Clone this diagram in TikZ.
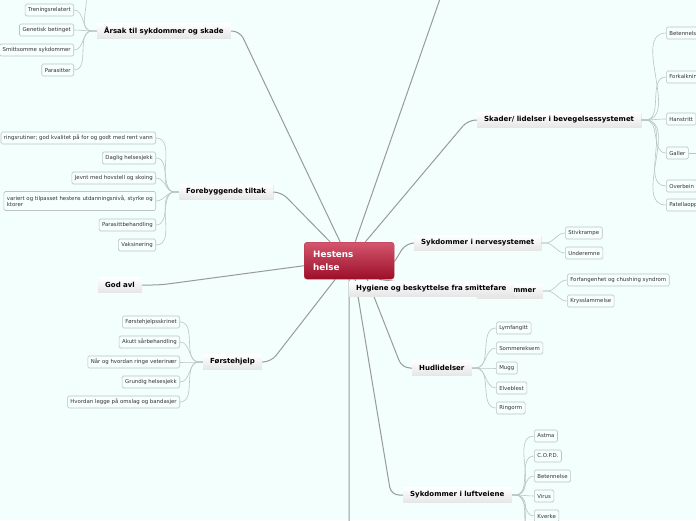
\documentclass[tikz,border=0pt]{standalone}
\usepackage{fontspec}
\setmainfont{DejaVu Sans}
\usetikzlibrary{shadows,positioning}
\definecolor{bgmint}{HTML}{F2FFFD}
\definecolor{redtop}{HTML}{D4566E}
\definecolor{redbot}{HTML}{9C0E28}
\definecolor{redrim}{HTML}{B8344F}
\definecolor{linegray}{HTML}{9A9A9A}
\definecolor{leafgray}{HTML}{BCC5C1}
\definecolor{leaffill}{HTML}{F6FFFD}
\definecolor{leaftext}{HTML}{333333}
\pgfdeclarelayer{back}
\pgfdeclarelayer{lines}
\pgfsetlayers{back,lines,main}

\begin{document}
\begin{tikzpicture}[x=1pt, y=-1pt,
    central/.style={rounded corners=3pt, top color=redtop, bottom color=redbot, draw=redrim,
      text=white, font=\bfseries\fontsize{8.8}{13}\selectfont, align=left, text width=72pt,
      minimum width=90pt, minimum height=37pt, inner xsep=9pt, anchor=north west},
    topic/.style={top color=white, bottom color=black!10, font=\bfseries\fontsize{7}{8}\selectfont,
      minimum height=15pt, inner xsep=7pt, inner ysep=2pt,
      drop shadow={opacity=0.15, shadow xshift=0.6pt, shadow yshift=-0.8pt}},
    leaf/.style={draw=leafgray, fill=leaffill, rounded corners=1.5pt, line width=0.6pt,
      font=\fontsize{5.4}{6.5}\selectfont, text=leaftext, minimum height=12pt,
      inner xsep=3pt, inner ysep=1.5pt},
    mainline/.style={draw=linegray, line width=1pt, rounded corners=8pt},
    leafline/.style={draw=leafgray, line width=0.6pt}]

  \begin{pgfonlayer}{back}
    \fill[bgmint] (0,0) rectangle (696,520);
  \end{pgfonlayer}
  \useasboundingbox (0,0) rectangle (696,520);

  % centre
  \node[central] (hest) at (304,242) {Hestens\\helse};

  % main branches
  \node[topic, anchor=west] (arsak) at (97,31) {Årsak til sykdommer og skade};
  \node[topic, anchor=west] (foreb) at (179,192) {Forebyggende tiltak};
  \node[topic, anchor=west] (avl) at (98,285) {God avl};
  \node[topic, anchor=west] (forst) at (203,362) {Førstehjelp};
  \node[topic, anchor=west] (skader) at (477,120) {Skader/ lidelser i bevegelsessystemet};
  \node[topic, anchor=west] (nerve) at (414,243) {Sykdommer i nervesystemet};
  \node[topic, anchor=east, text width=52pt, align=right, minimum height=14pt] (hormon) at (543,291) {ommer};
  \node[topic, anchor=west] (hygiene) at (349,288.5) {Hygiene og beskyttelse fra smittefare};
  \node[topic, anchor=west] (hud) at (412,368) {Hudlidelser};
  \node[topic, anchor=west] (luft) at (403,495) {Sykdommer i luftveiene};

  % Årsak til sykdommer og skade
  \node[leaf, anchor=east] (tren) at (74,10) {Treningsrelatert};
  \node[leaf, anchor=east] (gen) at (74,30) {Genetisk betinget};
  \node[leaf, anchor=east] (smitt) at (74,50) {Smittsomme sykdommer};
  \node[leaf, anchor=east] (para) at (74,70) {Parasitter};
  \coordinate (arsaktop) at (86,-6);

  % Forebyggende tiltak
  \node[leaf, anchor=east] (for) at (156,138) {ringsrutiner; god kvalitet på for og godt med rent vann};
  \node[leaf, anchor=east] (dagl) at (156,158) {Daglig helsesjekk};
  \node[leaf, anchor=east] (hov) at (156,178) {Jevnt med hovstell og skoing};
  \node[leaf, anchor=east, align=left, minimum height=19pt, font=\fontsize{5.4}{6.4}\selectfont] (tren2) at (156,201)
    {variert og tilpasset hestens utdanningsnivå, styrke og\\ktorer};
  \node[leaf, anchor=east] (parab) at (156,225) {Parasittbehandling};
  \node[leaf, anchor=east] (vaks) at (156,245) {Vaksinering};

  % Førstehjelp
  \node[leaf, anchor=east] (skrin) at (180,322) {Førstehjelpsskrinet};
  \node[leaf, anchor=east] (saar) at (180,342) {Akutt sårbehandling};
  \node[leaf, anchor=east] (vet) at (180,362) {Når og hvordan ringe veterinær};
  \node[leaf, anchor=east] (grund) at (180,382) {Grundig helsesjekk};
  \node[leaf, anchor=east] (omsl) at (180,402) {Hvordan legge på omslag og bandasjer};

  % Skader/ lidelser i bevegelsessystemet
  \node[leaf, anchor=west] (beten) at (666,33) {Betennelse};
  \node[leaf, anchor=west] (forkalk) at (666,77) {Forkalkning};
  \node[leaf, anchor=west] (hans) at (666,119) {Hanstritt};
  \node[leaf, anchor=west] (galler) at (666,153) {Galler};
  \node[leaf, anchor=west] (overb) at (666,186) {Overbein};
  \node[leaf, anchor=west] (patella) at (666,205) {Patellaopphenging};
  \coordinate (gallerut) at (700,153);

  % Sykdommer i nervesystemet
  \node[leaf, anchor=west] (stiv) at (565,233) {Stivkrampe};
  \node[leaf, anchor=west] (under) at (565,253) {Underemne};

  % ...ommer
  \node[leaf, anchor=west] (forf) at (567,280) {Forfangenhet og chushing syndrom};
  \node[leaf, anchor=west] (kryss) at (567,301) {Krysslammelse};

  % Hudlidelser
  \node[leaf, anchor=west] (lymf) at (496,328) {Lymfangitt};
  \node[leaf, anchor=west] (somm) at (496,348) {Sommereksem};
  \node[leaf, anchor=west] (mugg) at (496,368) {Mugg};
  \node[leaf, anchor=west] (elve) at (496,388) {Elveblest};
  \node[leaf, anchor=west] (ring) at (496,408) {Ringorm};

  % Sykdommer i luftveiene
  \node[leaf, anchor=west] (astma) at (534,436) {Astma};
  \node[leaf, anchor=west] (copd) at (534,456) {C.O.P.D.};
  \node[leaf, anchor=west] (beten2) at (534,476) {Betennelse};
  \node[leaf, anchor=west] (virus) at (534,496) {Virus};
  \node[leaf, anchor=west] (kverk) at (534,516) {Kverke};
  \coordinate (luftut1) at (534,536);
  \coordinate (luftut2) at (534,556);

  \coordinate (topp) at (441,-4);
  \coordinate (nedre) at (349,530);

  \begin{pgfonlayer}{lines}
    % centre to branches
    \draw[mainline] ([xshift=-9pt]hest.north) -- ([xshift=9pt]arsak.east) -- (arsak.east);
    \draw[mainline] ([xshift=-19pt]hest.north) -- ([xshift=8pt]foreb.east) -- (foreb.east);
    \draw[mainline] ([xshift=6pt]hest.north) -- (topp);
    \draw[mainline] ([xshift=16pt]hest.north) -- ([xshift=-9pt]skader.west) -- (skader.west);
    \draw[mainline] ([yshift=-5pt]hest.west) -- ([xshift=18pt]avl.east) -- (avl.east);
    \draw[mainline] ([xshift=-14pt]hest.south) -- ([xshift=9pt]forst.east) -- (forst.east);
    \draw[mainline] ([yshift=-1pt]hest.east) -- ([xshift=-8pt]nerve.west) -- (nerve.west);
    \draw[mainline] ([xshift=30pt]hest.south) -- ([xshift=-8pt]hormon.west) -- (hormon.west);
    \draw[mainline] (hest.south) -- (nedre);
    \draw[mainline] ([xshift=18pt]hest.south) -- ([xshift=-10pt]hud.west) -- (hud.west);
    \draw[mainline] ([xshift=6pt]hest.south) -- ([xshift=-12pt]luft.west) -- (luft.west);

    % branches to leaves
    \foreach \c in {tren,gen,smitt,para}
      \draw[leafline] (\c.east) to[out=0,in=180] ([xshift=-5pt]arsak.west) -- (arsak.west);
    \draw[leafline] (arsaktop) to[out=-80,in=180] ([xshift=-5pt]arsak.west);
    \foreach \c in {for,dagl,hov,tren2,parab,vaks}
      \draw[leafline] (\c.east) to[out=0,in=180] ([xshift=-4pt]foreb.west) -- (foreb.west);
    \foreach \c in {skrin,saar,vet,grund,omsl}
      \draw[leafline] (\c.east) to[out=0,in=180] ([xshift=-4pt]forst.west) -- (forst.west);
    \foreach \c in {beten,forkalk,hans,galler,overb,patella}
      \draw[leafline] (skader.east) -- ([xshift=4pt]skader.east) to[out=0,in=180] (\c.west);
    \draw[leafline] (galler.east) -- (gallerut);
    \foreach \c in {stiv,under}
      \draw[leafline] (nerve.east) -- ([xshift=4pt]nerve.east) to[out=0,in=180] (\c.west);
    \foreach \c in {forf,kryss}
      \draw[leafline] (hormon.east) -- ([xshift=4pt]hormon.east) to[out=0,in=180] (\c.west);
    \foreach \c in {lymf,somm,mugg,elve,ring}
      \draw[leafline] (hud.east) -- ([xshift=4pt]hud.east) to[out=0,in=180] (\c.west);
    \foreach \c in {astma,copd,beten2,virus,kverk}
      \draw[leafline] (luft.east) -- ([xshift=4pt]luft.east) to[out=0,in=180] (\c.west);
    \foreach \c in {luftut1,luftut2}
      \draw[leafline] ([xshift=4pt]luft.east) to[out=0,in=180] (\c);
  \end{pgfonlayer}
\end{tikzpicture}
\end{document}
